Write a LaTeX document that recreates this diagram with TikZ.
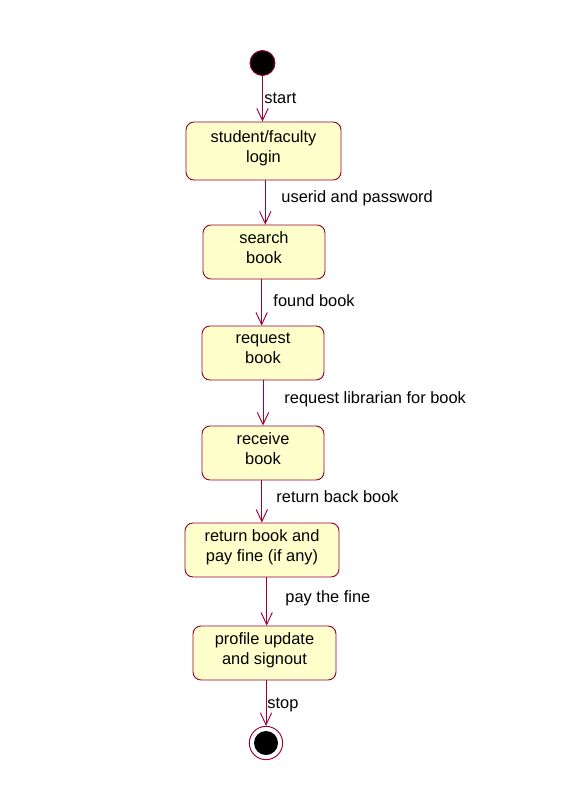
\documentclass[tikz,border=0pt]{standalone}
\usepackage{fontspec}
\setmainfont{Liberation Sans}
\usetikzlibrary{arrows.meta}
\definecolor{umlred}{HTML}{990033}
\definecolor{umlfill}{HTML}{FFFFCC}

\begin{document}
\begin{tikzpicture}[x=0.03cm, y=-0.03cm, line width=0.8pt,
    font=\fontsize{14}{17}\selectfont,
    state/.style={draw=umlred, fill=umlfill, rounded corners=0.24cm, align=center, minimum height=1.62cm, inner sep=0pt,
      execute at end node={\rule[-8pt]{0pt}{8pt}}},
    flow/.style={draw=umlred, -{Straight Barb[length=3.6mm, width=3.4mm]}},
    lbl/.style={anchor=base west, inner sep=0pt}]

    \useasboundingbox (0,0) rectangle (583,786);

    \node[fill=black, draw=umlred, circle, minimum size=0.75cm, inner sep=0pt] (init) at (262.5,63) {};
    \node[state, minimum width=4.65cm, minimum height=1.74cm] (login) at (263.5,151) {student/faculty\\login};
    \node[state, minimum width=3.66cm] (search) at (264,252) {search\\book};
    \node[state, minimum width=3.66cm] (request) at (263,353) {request\\book};
    \node[state, minimum width=3.66cm] (receive) at (263,453) {receive\\book};
    \node[state, minimum width=4.62cm] (return) at (262,550) {return book and\\pay fine (if any)};
    \node[state, minimum width=4.29cm] (profile) at (264.5,653) {profile update\\and signout};
    \node[circle, draw=umlred, fill=white, minimum size=1.0cm, inner sep=0pt] (final) at (266,743) {};
    \node[circle, fill=black, minimum size=0.72cm, inner sep=0pt] (finaldot) at (266,743) {};

    \path[flow] (init) -- (init |- login.north);
    \path[flow] ([xshift=1.5]login.south) -- ([xshift=1.5]login.south |- search.north);
    \path[flow] ([xshift=-2]search.south) -- ([xshift=-2]search.south |- request.north);
    \path[flow] (request.south) -- (request.south |- receive.north);
    \path[flow] ([xshift=-1]receive.south) -- ([xshift=-1]receive.south |- return.north);
    \path[flow] ([xshift=4]return.south) -- ([xshift=4]return.south |- profile.north);
    \path[flow] (final |- profile.south) -- (final);

    \node[lbl] (lstart) at (264,104) {start};
    \node[lbl] (luser) at (281,202) {userid and password};
    \node[lbl] (lfound) at (273,306) {found book};
    \node[lbl] (llib) at (284,403) {request librarian for book};
    \node[lbl] (lback) at (276,502) {return back book};
    \node[lbl] (lfine) at (285,602) {pay the fine};
    \node[lbl] (lstop) at (267,708) {stop};

\end{tikzpicture}
\end{document}
